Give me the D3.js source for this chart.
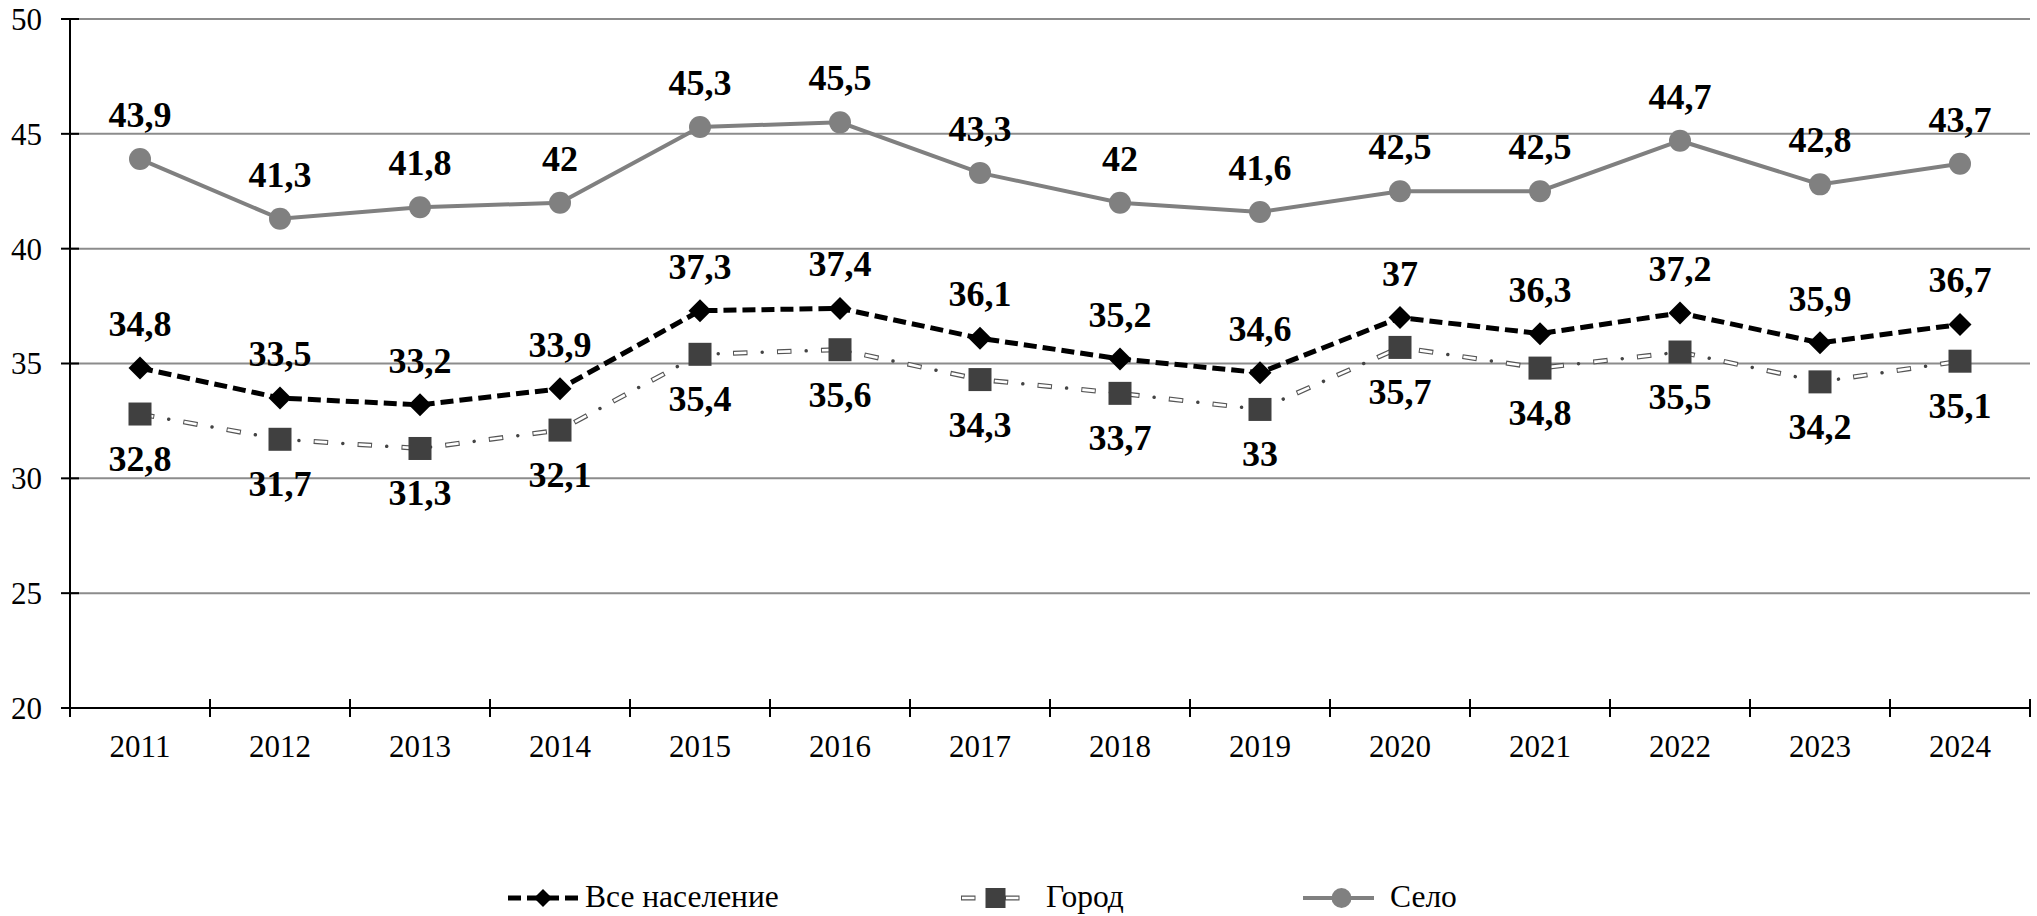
<!DOCTYPE html>
<html>
<head>
<meta charset="utf-8">
<script src="https://cdn.jsdelivr.net/npm/d3@7"></script>
<style>
  body { margin: 0; background: #fff; }
</style>
</head>
<body>
<svg id="chart" width="2037" height="916"></svg>
<script>
const years = ["2011", "2012", "2013", "2014", "2015", "2016", "2017", "2018", "2019", "2020", "2021", "2022", "2023", "2024"];
const allPop = [34.8, 33.5, 33.2, 33.9, 37.3, 37.4, 36.1, 35.2, 34.6, 37, 36.3, 37.2, 35.9, 36.7];
const city = [32.8, 31.7, 31.3, 32.1, 35.4, 35.6, 34.3, 33.7, 33, 35.7, 34.8, 35.5, 34.2, 35.1];
const village = [43.9, 41.3, 41.8, 42, 45.3, 45.5, 43.3, 42, 41.6, 42.5, 42.5, 44.7, 42.8, 43.7];
const yTicks = [20, 25, 30, 35, 40, 45, 50];
const legendNames = ["Все население", "Город", "Село"];

const FONT = '"Liberation Serif"';
const svg = d3.select("#chart").attr("font-family", FONT);
const plotL = 70, plotR = 2030, plotT = 19, plotB = 708;

const x = d3.scaleBand().domain(years).range([plotL, plotR]).padding(0);
const y = d3.scaleLinear().domain([20, 50]).range([plotB, plotT]);
const cx = d => x(d) + x.bandwidth() / 2;

const fmt = v => String(v).replace(".", ",");

// grid
svg.append("g").selectAll("line")
  .data(yTicks.filter(t => t > 20))
  .join("line")
  .attr("x1", plotL).attr("x2", plotR)
  .attr("y1", d => y(d)).attr("y2", d => y(d))
  .attr("stroke", "#8c8c8c").attr("stroke-width", 2);

// y axis
const yAxis = svg.append("g");
yAxis.append("line")
  .attr("x1", plotL).attr("x2", plotL).attr("y1", y(50)).attr("y2", y(20))
  .attr("stroke", "#000").attr("stroke-width", 2);
yAxis.selectAll("line.tick")
  .data(yTicks).join("line").attr("class", "tick")
  .attr("x1", plotL - 9).attr("x2", plotL + 9)
  .attr("y1", d => y(d)).attr("y2", d => y(d))
  .attr("stroke", "#000").attr("stroke-width", 2);
yAxis.selectAll("text")
  .data(yTicks).join("text")
  .attr("x", 42).attr("y", d => y(d))
  .attr("dy", "0.35em").attr("text-anchor", "end")
  .attr("font-family", FONT).attr("font-size", 31).text(d => d);

// x axis
const xAxis = svg.append("g");
xAxis.append("line")
  .attr("x1", plotL - 9).attr("x2", plotR).attr("y1", plotB).attr("y2", plotB)
  .attr("stroke", "#000").attr("stroke-width", 2);
const bounds = years.map(d => x(d)).concat([plotR]);
xAxis.selectAll("line.tick")
  .data(bounds).join("line").attr("class", "tick")
  .attr("x1", d => d).attr("x2", d => d)
  .attr("y1", plotB - 9).attr("y2", plotB + 9)
  .attr("stroke", "#000").attr("stroke-width", 2);
xAxis.selectAll("text")
  .data(years).join("text")
  .attr("x", d => cx(d)).attr("y", 757)
  .attr("text-anchor", "middle")
  .attr("font-family", FONT).attr("font-size", 31).text(d => d);

const line = d3.line().x(d => d[0]).y(d => d[1]);
const pts = vals => years.map((yr, i) => [cx(yr), y(vals[i])]);

// line styles
function drawVillageLine(g, p) {
  g.append("path").attr("d", line(p))
    .attr("fill", "none").attr("stroke", "#808080").attr("stroke-width", 4);
}
function drawCityLine(g, p) {
  const d = line(p);
  g.append("path").attr("d", d).attr("fill", "none")
    .attr("stroke", "#555").attr("stroke-width", 5)
    .attr("stroke-dasharray", "14.5 29.5");
  g.append("path").attr("d", d).attr("fill", "none")
    .attr("stroke", "#fff").attr("stroke-width", 2.6)
    .attr("stroke-dasharray", "12.5 31.5").attr("stroke-dashoffset", -1);
  g.append("path").attr("d", d).attr("fill", "none")
    .attr("stroke", "#444").attr("stroke-width", 3.5)
    .attr("stroke-linecap", "round")
    .attr("stroke-dasharray", "0.01 43.99").attr("stroke-dashoffset", 14.8);
}
function drawAllLine(g, p) {
  g.append("path").attr("d", line(p))
    .attr("fill", "none").attr("stroke", "#000").attr("stroke-width", 5)
    .attr("stroke-dasharray", "13 6");
}

// markers
function diamond(g, px, py, h) {
  g.append("path")
    .attr("d", `M${px},${py - h}L${px + h},${py}L${px},${py + h}L${px - h},${py}Z`)
    .attr("fill", "#000");
}
function square(g, px, py, s) {
  g.append("rect").attr("x", px - s / 2).attr("y", py - s / 2)
    .attr("width", s).attr("height", s).attr("fill", "#404040");
}
function circle(g, px, py, r) {
  g.append("circle").attr("cx", px).attr("cy", py).attr("r", r).attr("fill", "#808080");
}

const gLines = svg.append("g");
drawVillageLine(gLines.append("g"), pts(village));
drawCityLine(gLines.append("g"), pts(city));
drawAllLine(gLines.append("g"), pts(allPop));

const gMarks = svg.append("g");
pts(village).forEach(p => circle(gMarks, p[0], p[1], 11));
pts(city).forEach(p => square(gMarks, p[0], p[1], 23));
pts(allPop).forEach(p => diamond(gMarks, p[0], p[1], 11.5));

// data labels
const gLabels = svg.append("g").attr("text-anchor", "middle");
function labels(vals, off) {
  gLabels.append("g").selectAll("text")
    .data(years).join("text")
    .attr("x", d => cx(d))
    .attr("y", (d, i) => y(vals[i]) + off)
    .attr("font-family", FONT).attr("font-size", 36).attr("font-weight", "bold")
    .text((d, i) => fmt(vals[i]));
}
labels(village, -32);
labels(allPop, -32);
labels(city, 57);

// legend
const legY = 898;
const gLeg = svg.append("g");
const legItems = [
  {x0: 508, x1: 578, tx: 585, draw: (g, a, b, yy) => { drawAllLine(g, [[a, yy], [b, yy]]); diamond(g, (a + b) / 2, yy, 9); }},
  {x0: 961, x1: 1020, tx: 1046, draw: (g, a, b, yy) => { drawCityLine(g, [[a, yy], [b, yy]]); square(g, (a + b) / 2 + 5, yy, 20); }},
  {x0: 1303, x1: 1374, tx: 1390, draw: (g, a, b, yy) => { drawVillageLine(g, [[a, yy], [b, yy]]); circle(g, (a + b) / 2 + 3, yy, 10); }}
];
legItems.forEach((it, i) => {
  const g = gLeg.append("g");
  it.draw(g, it.x0, it.x1, legY);
  g.append("text").attr("x", it.tx).attr("y", 907)
    .attr("font-family", FONT).attr("font-size", 31.5).text(legendNames[i]);
});
</script>
</body>
</html>
